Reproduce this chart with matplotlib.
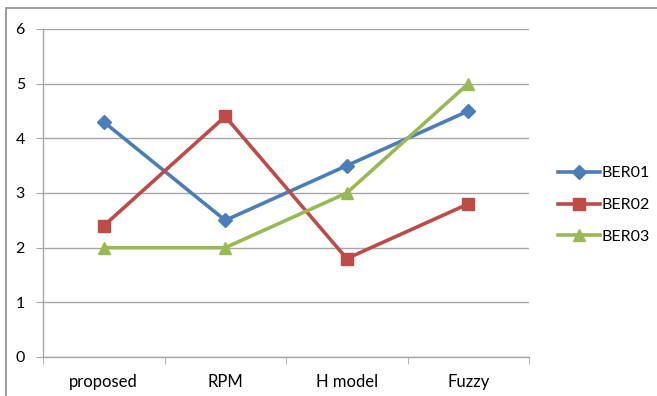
import matplotlib
matplotlib.use("Agg")
import matplotlib.pyplot as plt
from matplotlib.patches import Rectangle
from matplotlib.lines import Line2D

categories = ["proposed", "RPM", "H model", "Fuzzy"]
ber01 = [4.3, 2.5, 3.5, 4.5]
ber02 = [2.4, 4.4, 1.8, 2.8]
ber03 = [2.0, 2.0, 3.0, 5.0]
series_names = ["BER01", "BER02", "BER03"]
yticks = [0, 1, 2, 3, 4, 5, 6]

plt.rcParams['font.family'] = ['Lato', 'DejaVu Sans']

W, H = 657, 396
fig = plt.figure(figsize=(W / 100, H / 100), dpi=100)
fig.patch.set_facecolor("white")

# outer chart frame
fig.add_artist(Rectangle((6 / W, -0.05), 1.2, (H - 8) / H + 0.05, transform=fig.transFigure,
                         fill=False, edgecolor="#8c8c8c", linewidth=1.2))

left, right, top, bottom = 43, 529, 29, 357
ax = fig.add_axes([left / W, 1 - bottom / H, (right - left) / W, (bottom - top) / H])

x = list(range(len(categories)))
colors = ["#4A7EBB", "#BE4B48", "#98B954"]
markers = ["D", "s", "^"]
msizes = [7.5, 8.5, 9]
data = [ber01, ber02, ber03]
for vals, c, m, ms, name in zip(data, colors, markers, msizes, series_names):
    ax.plot(x, vals, color=c, marker=m, markersize=ms, linewidth=2.6, label=name,
            markeredgecolor=c, solid_capstyle="round", clip_on=False, zorder=3)

ax.set_xlim(-0.5, len(categories) - 0.5)
ax.set_ylim(0, 6)
ax.set_yticks(yticks)
ax.set_yticklabels([str(v) for v in yticks])
ax.set_xticks(x)
ax.set_xticklabels(categories)
ax.set_xticks([i - 0.5 for i in range(len(categories) + 1)], minor=True)

ax.yaxis.grid(True, color="#a6a6a6", linewidth=1.0)
ax.set_axisbelow(True)
for s in ["top", "right"]:
    ax.spines[s].set_visible(False)
for s in ["left", "bottom"]:
    ax.spines[s].set_color("#a6a6a6")
    ax.spines[s].set_linewidth(1.0)

ax.tick_params(axis="y", which="major", length=5, color="#a6a6a6", labelsize=11.5, pad=8)
ax.tick_params(axis="x", which="major", length=0, labelsize=12, pad=12)
ax.tick_params(axis="x", which="minor", length=5, color="#a6a6a6")

handles = [Line2D([0], [0], color=c, marker=m, markersize=ms, linewidth=2.6, markeredgecolor=c)
           for c, m, ms in zip(colors, markers, msizes)]
fig.legend(handles, series_names, loc="center left", bbox_to_anchor=(544 / W, 1 - 205 / H),
           frameon=False, fontsize=11.5, labelspacing=1.1, handlelength=2.6, handletextpad=0.1)

fig.savefig("out.png", dpi=100, facecolor="white")
